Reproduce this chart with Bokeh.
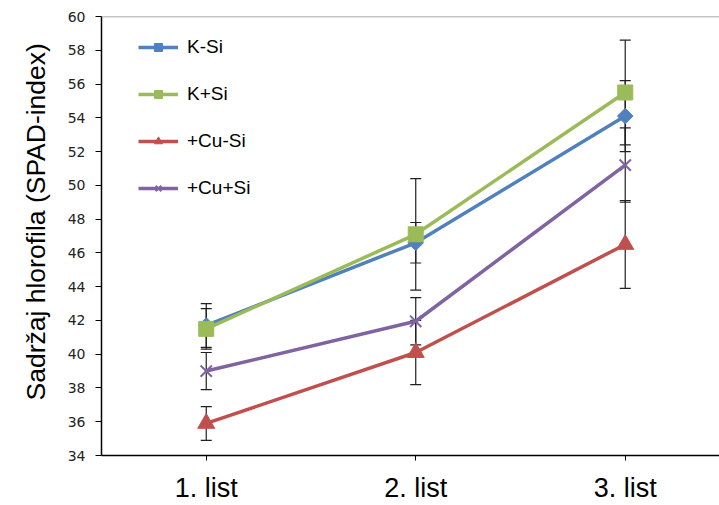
import math
from bokeh.plotting import figure
from bokeh.models import (ColumnDataSource, Range1d, FixedTicker, Legend, LegendItem,
                          Whisker, TeeHead, Span, Title)
from bokeh.embed import file_html
from bokeh.resources import INLINE

# Chlorophyll content (SPAD index) per leaf, mean ± error
categories = ["1. list", "2. list", "3. list"]
x_pos = [0, 1, 2]

k_minus_si = [41.7, 46.6, 54.1]
k_minus_si_err = [1.3, 1.2, 2.1]

k_plus_si = [41.5, 47.1, 55.5]
k_plus_si_err = [1.2, 3.3, 3.1]

cu_minus_si = [35.9, 40.1, 46.5]
cu_minus_si_err = [1.0, 1.9, 2.6]

cu_plus_si = [39.0, 41.95, 51.2]
cu_plus_si_err = [1.1, 1.4, 2.2]

y_ticks = list(range(34, 61, 2))
y_title = "Sadržaj hlorofila  (SPAD-index)"

series = [
    ("K-Si", k_minus_si, k_minus_si_err, "#4F81BD", "square", 11, math.pi / 4),
    ("K+Si", k_plus_si, k_plus_si_err, "#9BBB59", "square", 15, 0),
    ("+Cu-Si", cu_minus_si, cu_minus_si_err, "#C0504D", "triangle", 17, 0),
    ("+Cu+Si", cu_plus_si, cu_plus_si_err, "#8064A2", "x", 16, 0),
]

p = figure(width=719, height=505, output_backend="svg", toolbar_location=None,
           x_range=Range1d(-0.5, 2.45), y_range=Range1d(34, 60),
           min_border_left=101, min_border_right=0, min_border_top=16,
           min_border_bottom=50)
p.outline_line_color = None
p.xgrid.visible = False
p.ygrid.visible = False
p.background_fill_color = "white"
p.border_fill_color = "white"

# gray top edge of the plot area
p.add_layout(Span(location=60, dimension="width", line_color="#8C8C8C", line_width=1.5))

# error bars (under the lines)
for name, ys, errs, color, marker, size, angle in series:
    src = ColumnDataSource(dict(x=x_pos,
                                lower=[y - e for y, e in zip(ys, errs)],
                                upper=[y + e for y, e in zip(ys, errs)]))
    w = Whisker(source=src, base="x", lower="lower", upper="upper",
                line_color="#202020", line_width=1.2, level="underlay",
                lower_head=TeeHead(size=11, line_color="#202020", line_width=1.2),
                upper_head=TeeHead(size=11, line_color="#202020", line_width=1.2))
    p.add_layout(w)

items = []
for name, ys, errs, color, marker, size, angle in series:
    src = ColumnDataSource(dict(x=x_pos, y=ys))
    ln = p.line("x", "y", source=src, line_color=color, line_width=3.5)
    if marker == "x":
        sc = p.scatter("x", "y", source=src, marker=marker, size=size,
                       line_color=color, line_width=2)
    else:
        sc = p.scatter("x", "y", source=src, marker=marker, size=size, angle=angle,
                       fill_color=color, line_color=color)
    items.append(LegendItem(label=name, renderers=[ln, sc]))

legend = Legend(items=items, location=(37, 256), orientation="vertical",
                glyph_width=40, glyph_height=20, label_height=20, spacing=25,
                padding=0, margin=0, border_line_color=None, background_fill_alpha=0,
                label_text_font="Liberation Sans", label_text_font_size="19px",
                label_standoff=9, label_text_color="#000000")
p.add_layout(legend)

# vertical axis title as a side title, starting above the bottom of the frame
p.add_layout(Title(text=y_title, align="left", offset=55, standoff=28,
                   text_font="Liberation Sans", text_font_size="26.5px",
                   text_font_style="normal", text_color="#000000"), "left")

# x axis
p.xaxis.ticker = FixedTicker(ticks=x_pos)
p.xaxis.major_label_overrides = {i: c for i, c in zip(x_pos, categories)}
p.xaxis.major_label_text_font = "Liberation Sans"
p.xaxis.major_label_text_font_size = "27px"
p.xaxis.major_label_text_color = "#000000"
p.xaxis.major_label_standoff = 12
p.xaxis.axis_line_color = "#000000"
p.xaxis.axis_line_width = 1.5
p.xaxis.major_tick_out = 5
p.xaxis.major_tick_in = 0
p.xaxis.major_tick_line_color = "#000000"
p.xaxis.minor_tick_line_color = None

# y axis
p.yaxis.ticker = FixedTicker(ticks=y_ticks)
p.yaxis.major_label_text_font = "DejaVu Sans"
p.yaxis.major_label_text_font_size = "14px"
p.yaxis.major_label_text_color = "#222222"
p.yaxis.major_label_standoff = 10
p.yaxis.axis_line_color = "#000000"
p.yaxis.axis_line_width = 1.5
p.yaxis.major_tick_out = 6
p.yaxis.major_tick_in = 0
p.yaxis.major_tick_line_color = "#000000"
p.yaxis.minor_tick_line_color = None

open("out.html", "w").write(file_html(p, INLINE))
